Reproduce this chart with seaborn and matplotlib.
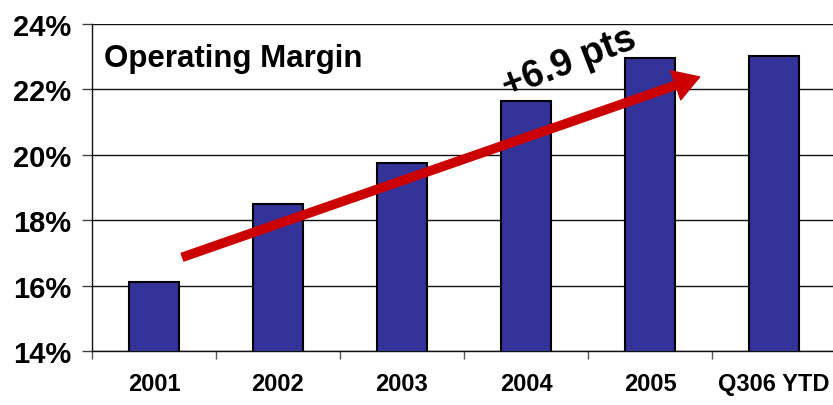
import matplotlib
matplotlib.use("Agg")
import matplotlib.pyplot as plt
import seaborn as sns
import pandas as pd
from matplotlib.ticker import FixedLocator

categories = ["2001", "2002", "2003", "2004", "2005", "Q306 YTD"]
margins = [16.1, 18.5, 19.75, 21.65, 22.95, 23.03]
y_ticks = [14, 16, 18, 20, 22, 24]
y_tick_labels = ["14%", "16%", "18%", "20%", "22%", "24%"]
title_text = "Operating Margin"
arrow_text = "+6.9 pts"

sns.set_theme(style="white")
plt.rcParams['font.family'] = ['Liberation Sans', 'DejaVu Sans']
plt.rcParams['font.weight'] = 'bold'
plt.rcParams['text.color'] = 'black'
plt.rcParams['xtick.color'] = 'black'
plt.rcParams['ytick.color'] = 'black'

df = pd.DataFrame({"cat": categories, "val": margins})

fig = plt.figure(figsize=(8.33, 4.06), dpi=100)
ax = fig.add_axes([92/833, 54/406, 744/833, 327/406])

sns.barplot(data=df, x="cat", y="val", ax=ax, color="#333399", saturation=1,
            width=0.4, edgecolor="black", linewidth=1.5, zorder=3)

ax.set_ylim(14, 24)
ax.set_xlim(-0.5, len(categories) - 0.5)
ax.set_yticks(y_ticks)
ax.set_yticklabels(y_tick_labels, fontsize=21, fontweight='bold', color="black")
ax.set_xticks(range(len(categories)))
ax.set_xticklabels(categories, fontsize=17, fontweight='bold', color="black")
ax.set_xlabel("")
ax.set_ylabel("")

ax.yaxis.grid(True, color="#111111", linewidth=1.0, zorder=0)
ax.set_axisbelow(True)
for s in ["top", "right"]:
    ax.spines[s].set_visible(False)
for s in ["left", "bottom"]:
    ax.spines[s].set_color("#111111")
    ax.spines[s].set_linewidth(1.0)

ax.tick_params(axis="y", which="major", length=7, width=1, color="#444444",
               pad=8, left=True, direction="out", labelcolor="black")
ax.tick_params(axis="x", which="major", length=0, pad=15, labelcolor="black")
ax.xaxis.set_minor_locator(FixedLocator([i - 0.5 for i in range(len(categories) + 1)]))
ax.tick_params(axis="x", which="minor", length=6, width=1, color="#555555",
               bottom=True, direction="out")

ax.text(0.016, 0.895, title_text, transform=ax.transAxes, fontsize=22.5,
        fontweight='bold', ha="left", va="center", color="black", zorder=5)

ax.annotate("", xy=(4.40, 22.38), xytext=(0.23, 16.87),
            arrowprops=dict(arrowstyle="simple,head_length=1.4,head_width=1.7,tail_width=0.45",
                            color="#CC0000", shrinkA=0, shrinkB=0, mutation_scale=13),
            zorder=6)
ax.text(3.35, 22.85, arrow_text, fontsize=27, fontweight='bold', rotation=21,
        ha="center", va="center", color="black", rotation_mode="anchor", zorder=6)

fig.savefig("out.png", dpi=100, facecolor="white")
